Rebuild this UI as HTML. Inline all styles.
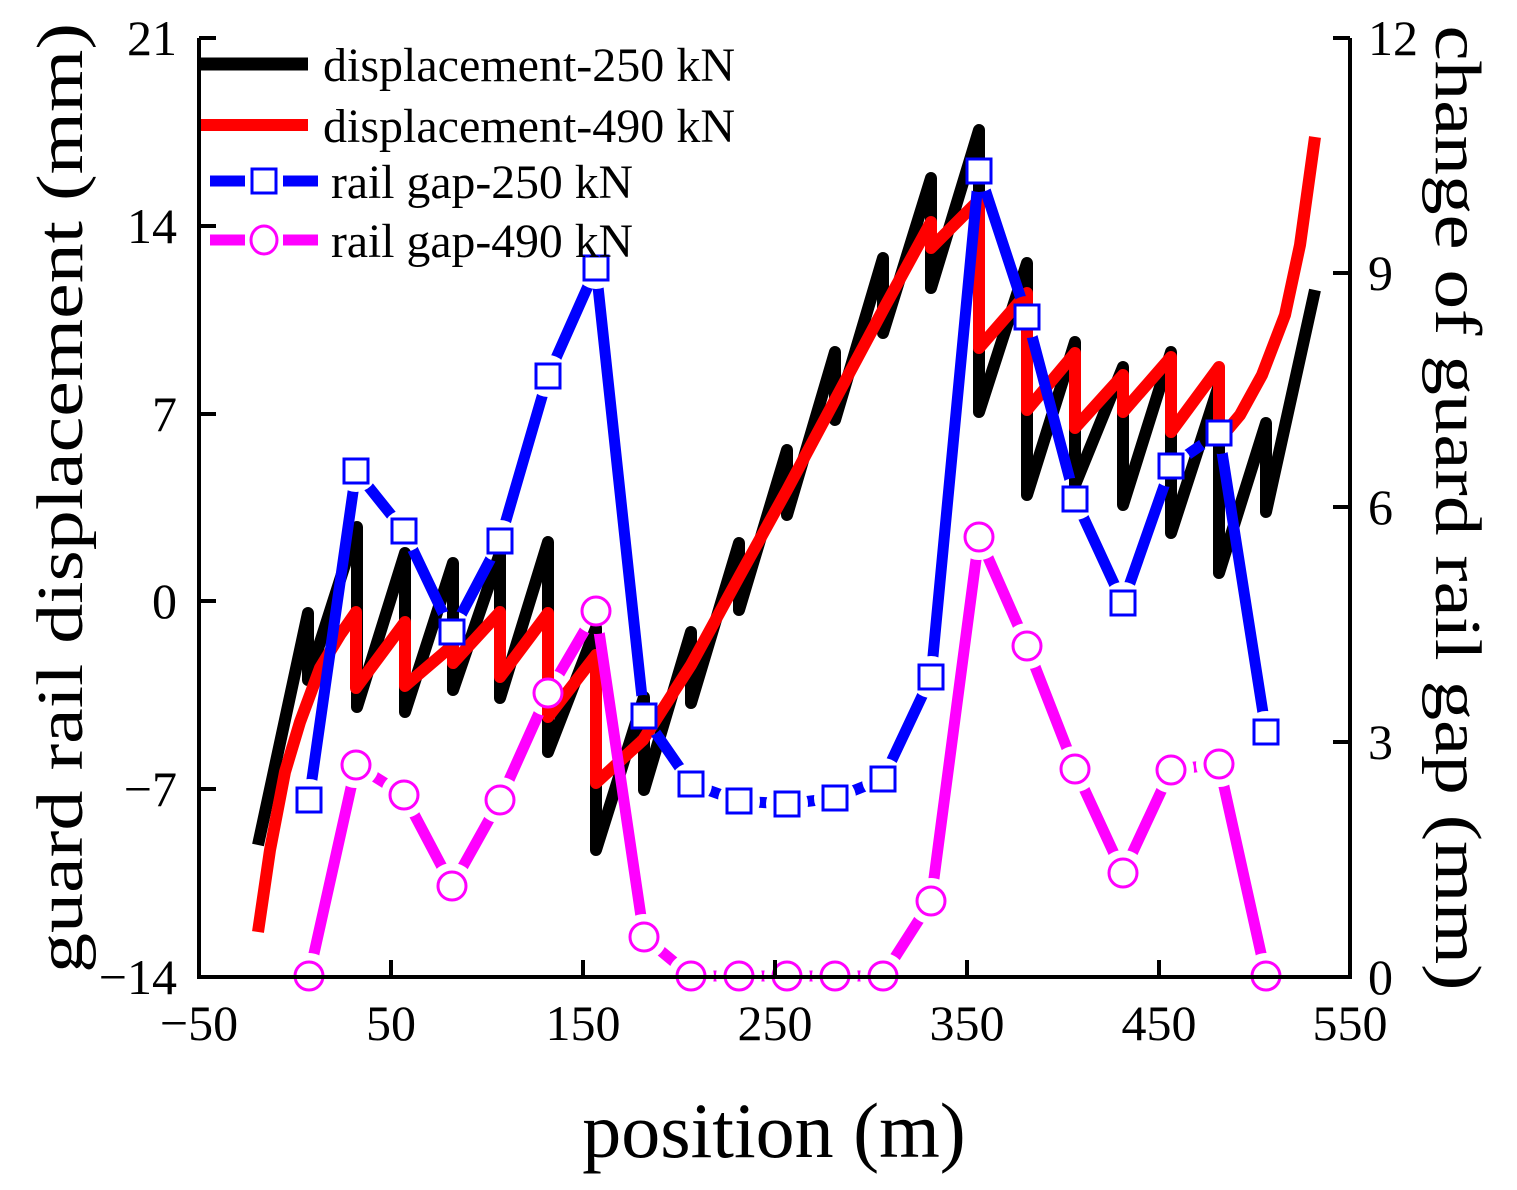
<!DOCTYPE html>
<html><head><meta charset="utf-8"><style>html,body{margin:0;padding:0;background:#fff}svg{display:block}</style></head>
<body>
<svg width="1517" height="1190" viewBox="0 0 1517 1190" xmlns="http://www.w3.org/2000/svg" font-family="Liberation Serif, serif">
<rect width="1517" height="1190" fill="#fff"/>
<defs>
<mask id="mb" maskUnits="userSpaceOnUse" x="0" y="0" width="1517" height="1190">
<rect width="1517" height="1190" fill="#fff"/>
<g fill="#000">
<circle cx="309" cy="800" r="21"/><circle cx="356" cy="471" r="21"/><circle cx="404" cy="531" r="21"/><circle cx="452" cy="632" r="21"/><circle cx="500" cy="541" r="21"/><circle cx="548" cy="376" r="21"/><circle cx="596" cy="268" r="21"/><circle cx="644" cy="716" r="21"/><circle cx="691" cy="784" r="21"/><circle cx="739" cy="801" r="21"/><circle cx="787" cy="804" r="21"/><circle cx="835" cy="798" r="21"/><circle cx="883" cy="779" r="21"/><circle cx="931" cy="677" r="21"/><circle cx="979" cy="171" r="21"/><circle cx="1027" cy="317" r="21"/><circle cx="1075" cy="499" r="21"/><circle cx="1123" cy="603" r="21"/><circle cx="1171" cy="466" r="21"/><circle cx="1219" cy="433" r="21"/><circle cx="1266" cy="732" r="21"/>
</g>
</mask>
<mask id="mm" maskUnits="userSpaceOnUse" x="0" y="0" width="1517" height="1190">
<rect width="1517" height="1190" fill="#fff"/>
<g fill="#000">
<circle cx="309" cy="976" r="23"/><circle cx="356" cy="765" r="23"/><circle cx="404" cy="795" r="23"/><circle cx="452" cy="886" r="23"/><circle cx="500" cy="800" r="23"/><circle cx="548" cy="693" r="23"/><circle cx="596" cy="611" r="23"/><circle cx="644" cy="937" r="23"/><circle cx="691" cy="976" r="23"/><circle cx="739" cy="976" r="23"/><circle cx="787" cy="976" r="23"/><circle cx="835" cy="976" r="23"/><circle cx="883" cy="976" r="23"/><circle cx="931" cy="901" r="23"/><circle cx="979" cy="537" r="23"/><circle cx="1027" cy="646" r="23"/><circle cx="1075" cy="769" r="23"/><circle cx="1123" cy="873" r="23"/><circle cx="1171" cy="770" r="23"/><circle cx="1219" cy="764" r="23"/><circle cx="1266" cy="976" r="23"/>
</g>
</mask>
</defs>
<!-- black -->
<polyline fill="none" stroke="#000" stroke-width="12" stroke-linejoin="round" points="258,845 308,613 308,680 357,527 357,707 405,553 405,712 453,563 453,690 500,553 500,698 548,542 548,752 596,628 596,850 644,697 644,790 691,632 691,703 739,543 739,610 787,450 787,515 835,352 835,420 883,258 883,333 931,178 931,288 979,130 979,412 1027,263 1027,495 1075,342 1075,485 1123,367 1123,505 1171,352 1171,533 1219,385 1219,573 1266,423 1266,512 1315,290"/>
<!-- red -->
<polyline fill="none" stroke="#f00" stroke-width="12" stroke-linejoin="round" points="258,932 270,850 285,772 300,722 320,668 340,635 356,612 356,688 405,622 405,686 453,645 453,663 500,612 500,677 548,613 548,717 596,655 596,783 643,740 691,665 739,577 787,490 835,400 883,310 931,222 931,248 979,200 979,348 1027,293 1027,410 1075,353 1075,428 1123,375 1123,412 1171,357 1171,432 1219,367 1219,440 1240,415 1262,375 1285,315 1300,245 1315,137"/>
<!-- blue -->
<polyline mask="url(#mb)" fill="none" stroke="#00f" stroke-width="11" stroke-linejoin="miter" points="309,800 356,471 404,531 452,632 500,541 548,376 596,268 644,716 691,784 739,801 787,804 835,798 883,779 931,677 979,171 1027,317 1075,499 1123,603 1171,466 1219,433 1266,732"/>
<!-- magenta -->
<polyline mask="url(#mm)" fill="none" stroke="#f0f" stroke-width="11" stroke-linejoin="miter" points="309,976 356,765 404,795 452,886 500,800 548,693 596,611 644,937 691,976 739,976 787,976 835,976 883,976 931,901 979,537 1027,646 1075,769 1123,873 1171,770 1219,764 1266,976"/>
<g fill="#fff" stroke="#00f" stroke-width="3">
<rect x="297" y="788" width="24" height="24"/><rect x="344" y="459" width="24" height="24"/><rect x="392" y="519" width="24" height="24"/><rect x="440" y="620" width="24" height="24"/><rect x="488" y="529" width="24" height="24"/><rect x="536" y="364" width="24" height="24"/><rect x="584" y="256" width="24" height="24"/><rect x="632" y="704" width="24" height="24"/><rect x="679" y="772" width="24" height="24"/><rect x="727" y="789" width="24" height="24"/><rect x="775" y="792" width="24" height="24"/><rect x="823" y="786" width="24" height="24"/><rect x="871" y="767" width="24" height="24"/><rect x="919" y="665" width="24" height="24"/><rect x="967" y="159" width="24" height="24"/><rect x="1015" y="305" width="24" height="24"/><rect x="1063" y="487" width="24" height="24"/><rect x="1111" y="591" width="24" height="24"/><rect x="1159" y="454" width="24" height="24"/><rect x="1207" y="421" width="24" height="24"/><rect x="1254" y="720" width="24" height="24"/>
</g>
<g fill="#fff" stroke="#f0f" stroke-width="3">
<circle cx="309" cy="976" r="14"/><circle cx="356" cy="765" r="14"/><circle cx="404" cy="795" r="14"/><circle cx="452" cy="886" r="14"/><circle cx="500" cy="800" r="14"/><circle cx="548" cy="693" r="14"/><circle cx="596" cy="611" r="14"/><circle cx="644" cy="937" r="14"/><circle cx="691" cy="976" r="14"/><circle cx="739" cy="976" r="14"/><circle cx="787" cy="976" r="14"/><circle cx="835" cy="976" r="14"/><circle cx="883" cy="976" r="14"/><circle cx="931" cy="901" r="14"/><circle cx="979" cy="537" r="14"/><circle cx="1027" cy="646" r="14"/><circle cx="1075" cy="769" r="14"/><circle cx="1123" cy="873" r="14"/><circle cx="1171" cy="770" r="14"/><circle cx="1219" cy="764" r="14"/><circle cx="1266" cy="976" r="14"/>
</g>
<!-- axes -->
<g stroke="#000" stroke-width="4" fill="none">
<path d="M199,38 V977 H1350 V38"/>
<path d="M199,38 h17 M199,226 h17 M199,414 h17 M199,601 h17 M199,789 h17"/>
<path d="M1350,742 h-17 M1350,507 h-17 M1350,273 h-17 M1350,38 h-17"/>
<path d="M391,977 v-17 M583,977 v-17 M775,977 v-17 M967,977 v-17 M1159,977 v-17"/>
</g>
<g font-size="50" fill="#000">
<g text-anchor="end">
<text x="177" y="55">21</text><text x="177" y="243">14</text><text x="177" y="431">7</text><text x="177" y="618">0</text><text x="177" y="806">−7</text><text x="177" y="994">−14</text>
</g>
<g text-anchor="start">
<text x="1368" y="55">12</text><text x="1368" y="290">9</text><text x="1368" y="524">6</text><text x="1368" y="759">3</text><text x="1368" y="994">0</text>
</g>
<g text-anchor="middle">
<text x="199" y="1040">−50</text><text x="391" y="1040">50</text><text x="583" y="1040">150</text><text x="775" y="1040">250</text><text x="967" y="1040">350</text><text x="1159" y="1040">450</text><text x="1350" y="1040">550</text>
</g>
</g>
<text x="774" y="1157" font-size="78" text-anchor="middle">position (m)</text>
<text transform="translate(82,498) rotate(-90)" font-size="66" text-anchor="middle" textLength="950" lengthAdjust="spacingAndGlyphs">guard rail displacement (mm)</text>
<text transform="translate(1436,508) rotate(90)" font-size="66" text-anchor="middle" textLength="965" lengthAdjust="spacingAndGlyphs">change of guard rail gap (mm)</text>
<!-- legend -->
<line x1="201" y1="64" x2="308" y2="64" stroke="#000" stroke-width="13"/>
<line x1="201" y1="125" x2="308" y2="125" stroke="#f00" stroke-width="12"/>
<line x1="210" y1="181" x2="245" y2="181" stroke="#00f" stroke-width="11"/>
<line x1="283" y1="181" x2="318" y2="181" stroke="#00f" stroke-width="11"/>
<rect x="252" y="169" width="24" height="24" fill="#fff" stroke="#00f" stroke-width="3"/>
<line x1="210" y1="240" x2="245" y2="240" stroke="#f0f" stroke-width="11"/>
<line x1="283" y1="240" x2="318" y2="240" stroke="#f0f" stroke-width="11"/>
<ellipse cx="264" cy="240" rx="13" ry="14" fill="#fff" stroke="#f0f" stroke-width="3"/>
<g font-size="48" fill="#000">
<text x="323" y="81" textLength="412" lengthAdjust="spacingAndGlyphs">displacement-250 kN</text>
<text x="323" y="142" textLength="412" lengthAdjust="spacingAndGlyphs">displacement-490 kN</text>
<text x="331" y="198" textLength="302" lengthAdjust="spacingAndGlyphs">rail gap-250 kN</text>
<text x="331" y="257" textLength="302" lengthAdjust="spacingAndGlyphs">rail gap-490 kN</text>
</g>
</svg>
</body></html>
